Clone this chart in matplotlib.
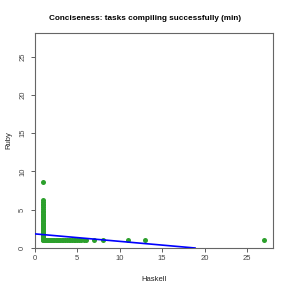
import matplotlib
matplotlib.use("Agg")
import matplotlib.pyplot as plt

plt.rcParams["font.family"] = ["Liberation Sans", "DejaVu Sans"]

# Tasks where Haskell solution is minimal (x = 1): Ruby ratio
col_y = [1.1, 1.2, 1.3, 1.4, 1.5, 1.6, 1.7, 1.8, 1.9, 2.0, 2.1, 2.2, 2.3, 2.4,
         2.5, 2.6, 2.8, 2.9, 3.0, 3.2, 3.3, 3.5, 3.6, 3.8, 4.0, 4.1, 4.3, 4.5,
         4.7, 4.9, 5.1, 5.3, 5.6, 5.8, 6.0, 6.3, 8.6]
# Tasks where Ruby solution is minimal (y ~ 1): Haskell ratio
row_x = [1.0, 1.2, 1.3, 1.4, 1.5, 1.6, 1.7, 1.8, 1.9, 2.0, 2.1, 2.2, 2.3, 2.5,
         2.6, 2.8, 2.9, 3.0, 3.2, 3.4, 3.6, 3.8, 4.0, 4.2, 4.4, 4.6, 4.8, 5.0,
         5.2, 5.5, 5.8, 6.1, 7.0, 8.0, 11.0, 13.0, 27.0]
row_y_val = 1.1

fit_intercept = 1.85
fit_slope = -0.098

xs = [1.0] * len(col_y) + row_x
ys = col_y + [row_y_val] * len(row_x)

fig = plt.figure(figsize=(2.91, 2.91), dpi=100)
ax = fig.add_axes([34.5 / 291, 43 / 291, 238.5 / 291, 215 / 291])

ax.scatter(xs, ys, s=13, color="#2ca02c", linewidths=0, zorder=2)
ax.axline((0, fit_intercept), slope=fit_slope, color="blue", lw=1.2, zorder=3)

ax.set_xlim(0, 28.05)
ax.set_ylim(0, 28.1)
ax.set_xticks([0, 5, 10, 15, 20, 25])
ax.set_yticks([0, 5, 10, 15, 20, 25])
for lbl in ax.get_yticklabels():
    lbl.set_rotation(90)
    lbl.set_va("center")
ax.tick_params(labelsize=5.5, length=3, width=0.6, colors="#444444", pad=2)
ax.tick_params(axis="y", pad=3)
for sp in ax.spines.values():
    sp.set_color("#666666")
    sp.set_linewidth(0.8)

ax.set_xlabel("Haskell", fontsize=5.5, labelpad=10, color="#222222")
ax.set_ylabel("Ruby", fontsize=5.5, labelpad=5, color="#222222")
fig.text(0.5, 1 - 18 / 291, "Conciseness: tasks compiling successfully (min)",
         ha="center", va="center", fontsize=5.9, fontweight="bold")

fig.savefig("out.png", dpi=100)
